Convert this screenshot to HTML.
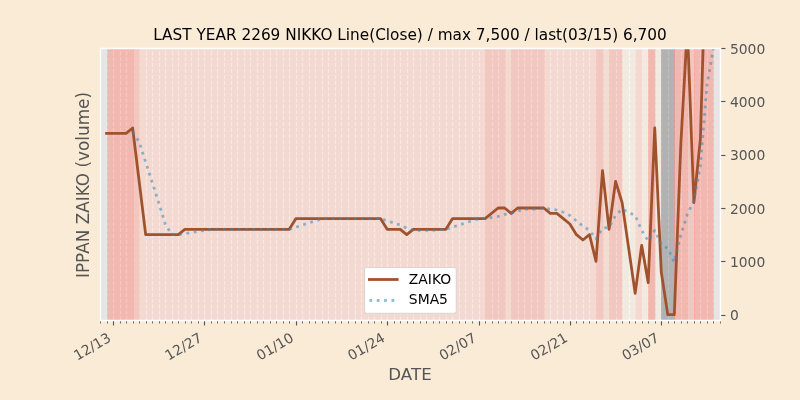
<!DOCTYPE html>
<html><head><meta charset="utf-8"><title>LAST YEAR 2269 NIKKO</title>
<style>html,body{margin:0;padding:0;background:#FAEBD7;overflow:hidden;width:800px;height:400px}svg{display:block;will-change:transform}</style>
</head><body>
<svg width="800" height="400" viewBox="0 0 800 400" version="1.1">
<defs><clipPath id="ca"><rect x="100" y="48" width="620" height="272"/></clipPath></defs>
<rect x="0" y="0" width="800" height="400" fill="#FAEBD7"/>
<rect x="100" y="48" width="620" height="272" fill="#E5E5E5"/>
<g clip-path="url(#ca)" stroke="white" stroke-width="1.11" stroke-dasharray="4.11,1.78" fill="none" ><path d="M100.5 320.5V48"/><path d="M107.5 320.5V48"/><path d="M113.5 320.5V48"/><path d="M120.5 320.5V48"/><path d="M126.5 320.5V48"/><path d="M133.5 320.5V48"/><path d="M139.5 320.5V48"/><path d="M146.5 320.5V48"/><path d="M152.5 320.5V48"/><path d="M159.5 320.5V48"/><path d="M165.5 320.5V48"/><path d="M172.5 320.5V48"/><path d="M178.5 320.5V48"/><path d="M185.5 320.5V48"/><path d="M191.5 320.5V48"/><path d="M198.5 320.5V48"/><path d="M204.5 320.5V48"/><path d="M211.5 320.5V48"/><path d="M217.5 320.5V48"/><path d="M224.5 320.5V48"/><path d="M231.5 320.5V48"/><path d="M237.5 320.5V48"/><path d="M244.5 320.5V48"/><path d="M250.5 320.5V48"/><path d="M257.5 320.5V48"/><path d="M263.5 320.5V48"/><path d="M270.5 320.5V48"/><path d="M276.5 320.5V48"/><path d="M283.5 320.5V48"/><path d="M289.5 320.5V48"/><path d="M296.5 320.5V48"/><path d="M302.5 320.5V48"/><path d="M309.5 320.5V48"/><path d="M315.5 320.5V48"/><path d="M322.5 320.5V48"/><path d="M328.5 320.5V48"/><path d="M335.5 320.5V48"/><path d="M341.5 320.5V48"/><path d="M348.5 320.5V48"/><path d="M355.5 320.5V48"/><path d="M361.5 320.5V48"/><path d="M368.5 320.5V48"/><path d="M374.5 320.5V48"/><path d="M381.5 320.5V48"/><path d="M387.5 320.5V48"/><path d="M394.5 320.5V48"/><path d="M400.5 320.5V48"/><path d="M407.5 320.5V48"/><path d="M413.5 320.5V48"/><path d="M420.5 320.5V48"/><path d="M426.5 320.5V48"/><path d="M433.5 320.5V48"/><path d="M439.5 320.5V48"/><path d="M446.5 320.5V48"/><path d="M452.5 320.5V48"/><path d="M459.5 320.5V48"/><path d="M465.5 320.5V48"/><path d="M472.5 320.5V48"/><path d="M479.5 320.5V48"/><path d="M485.5 320.5V48"/><path d="M492.5 320.5V48"/><path d="M498.5 320.5V48"/><path d="M505.5 320.5V48"/><path d="M511.5 320.5V48"/><path d="M518.5 320.5V48"/><path d="M524.5 320.5V48"/><path d="M531.5 320.5V48"/><path d="M537.5 320.5V48"/><path d="M544.5 320.5V48"/><path d="M550.5 320.5V48"/><path d="M557.5 320.5V48"/><path d="M563.5 320.5V48"/><path d="M570.5 320.5V48"/><path d="M576.5 320.5V48"/><path d="M583.5 320.5V48"/><path d="M589.5 320.5V48"/><path d="M596.5 320.5V48"/><path d="M603.5 320.5V48"/><path d="M609.5 320.5V48"/><path d="M616.5 320.5V48"/><path d="M622.5 320.5V48"/><path d="M629.5 320.5V48"/><path d="M635.5 320.5V48"/><path d="M642.5 320.5V48"/><path d="M648.5 320.5V48"/><path d="M655.5 320.5V48"/><path d="M661.5 320.5V48"/><path d="M668.5 320.5V48"/><path d="M674.5 320.5V48"/><path d="M681.5 320.5V48"/><path d="M687.5 320.5V48"/><path d="M694.5 320.5V48"/><path d="M700.5 320.5V48"/><path d="M707.5 320.5V48"/><path d="M713.5 320.5V48"/><path d="M720.5 320.5V48"/></g>
<rect x="107.5" y="47.5" width="26" height="274" fill="#FB8B7B" fill-opacity="0.5" stroke="#FB8B7B" stroke-opacity="0.5" stroke-width="0.69" clip-path="url(#ca)"/>
<rect x="133.5" y="47.5" width="6" height="274" fill="#FDAB9D" fill-opacity="0.5" stroke="#FDAB9D" stroke-opacity="0.5" stroke-width="0.69" clip-path="url(#ca)"/>
<rect x="139.5" y="47.5" width="346" height="274" fill="#FFCFBF" fill-opacity="0.5" stroke="#FFCFBF" stroke-opacity="0.5" stroke-width="0.69" clip-path="url(#ca)"/>
<rect x="485.5" y="47.5" width="20" height="274" fill="#FDAB9D" fill-opacity="0.5" stroke="#FDAB9D" stroke-opacity="0.5" stroke-width="0.69" clip-path="url(#ca)"/>
<rect x="505.5" y="47.5" width="6" height="274" fill="#FFCFBF" fill-opacity="0.5" stroke="#FFCFBF" stroke-opacity="0.5" stroke-width="0.69" clip-path="url(#ca)"/>
<rect x="511.5" y="47.5" width="33" height="274" fill="#FDAB9D" fill-opacity="0.5" stroke="#FDAB9D" stroke-opacity="0.5" stroke-width="0.69" clip-path="url(#ca)"/>
<rect x="544.5" y="47.5" width="52" height="274" fill="#FFCFBF" fill-opacity="0.5" stroke="#FFCFBF" stroke-opacity="0.5" stroke-width="0.69" clip-path="url(#ca)"/>
<rect x="596.5" y="47.5" width="7" height="274" fill="#FDAB9D" fill-opacity="0.5" stroke="#FDAB9D" stroke-opacity="0.5" stroke-width="0.69" clip-path="url(#ca)"/>
<rect x="603.5" y="47.5" width="6" height="274" fill="#FFD5C5" fill-opacity="0.5" stroke="#FFD5C5" stroke-opacity="0.5" stroke-width="0.69" clip-path="url(#ca)"/>
<rect x="609.5" y="47.5" width="13" height="274" fill="#FDAB9D" fill-opacity="0.5" stroke="#FDAB9D" stroke-opacity="0.5" stroke-width="0.69" clip-path="url(#ca)"/>
<rect x="622.5" y="47.5" width="13" height="274" fill="#FDEFDD" fill-opacity="0.5" stroke="#FDEFDD" stroke-opacity="0.5" stroke-width="0.69" clip-path="url(#ca)"/>
<rect x="635.5" y="47.5" width="7" height="274" fill="#FFCFBF" fill-opacity="0.5" stroke="#FFCFBF" stroke-opacity="0.5" stroke-width="0.69" clip-path="url(#ca)"/>
<rect x="642.5" y="47.5" width="6" height="274" fill="#FDEFDD" fill-opacity="0.5" stroke="#FDEFDD" stroke-opacity="0.5" stroke-width="0.69" clip-path="url(#ca)"/>
<rect x="648.5" y="47.5" width="7" height="274" fill="#FB8B7B" fill-opacity="0.5" stroke="#FB8B7B" stroke-opacity="0.5" stroke-width="0.69" clip-path="url(#ca)"/>
<rect x="655.5" y="47.5" width="6" height="274" fill="#FDEFDD" fill-opacity="0.5" stroke="#FDEFDD" stroke-opacity="0.5" stroke-width="0.69" clip-path="url(#ca)"/>
<rect x="661.5" y="47.5" width="13" height="274" fill="#808080" fill-opacity="0.5" stroke="#808080" stroke-opacity="0.5" stroke-width="0.69" clip-path="url(#ca)"/>
<rect x="674.5" y="47.5" width="13" height="274" fill="#FB8B7B" fill-opacity="0.5" stroke="#FB8B7B" stroke-opacity="0.5" stroke-width="0.69" clip-path="url(#ca)"/>
<rect x="687.5" y="47.5" width="7" height="274" fill="#FDAB9D" fill-opacity="0.5" stroke="#FDAB9D" stroke-opacity="0.5" stroke-width="0.69" clip-path="url(#ca)"/>
<rect x="694.5" y="47.5" width="19" height="274" fill="#FB8B7B" fill-opacity="0.5" stroke="#FB8B7B" stroke-opacity="0.5" stroke-width="0.69" clip-path="url(#ca)"/>
<polyline points="106.53,133.33 113.05,133.33 119.58,133.33 126.11,133.33 132.63,128 139.16,181.33 145.68,234.67 152.21,234.67 158.74,234.67 165.26,234.67 171.79,234.67 178.32,234.67 184.84,229.33 191.37,229.33 197.89,229.33 204.42,229.33 210.95,229.33 217.47,229.33 224,229.33 230.53,229.33 237.05,229.33 243.58,229.33 250.11,229.33 256.63,229.33 263.16,229.33 269.68,229.33 276.21,229.33 282.74,229.33 289.26,229.33 295.79,218.67 302.32,218.67 308.84,218.67 315.37,218.67 321.89,218.67 328.42,218.67 334.95,218.67 341.47,218.67 348,218.67 354.53,218.67 361.05,218.67 367.58,218.67 374.11,218.67 380.63,218.67 387.16,229.33 393.68,229.33 400.21,229.33 406.74,234.67 413.26,229.33 419.79,229.33 426.32,229.33 432.84,229.33 439.37,229.33 445.89,229.33 452.42,218.67 458.95,218.67 465.47,218.67 472,218.67 478.53,218.67 485.05,218.67 498.11,208 504.63,208 511.16,213.33 517.68,208 524.21,208 530.74,208 537.26,208 543.79,208 550.32,213.33 556.84,213.33 563.37,218.67 569.89,224 576.42,234.67 582.95,240 589.47,234.67 596,261.33 602.53,170.67 609.05,229.33 615.58,181.33 622.11,202.67 635.16,293.33 641.68,245.33 648.21,282.67 654.74,128 661.26,272 667.79,314.67 674.32,314.67 680.84,144 687.37,26.67 693.89,202.67 700.42,138.67 706.95,-85.33 713.47,-42.67" fill="none" stroke="sienna" stroke-width="2.78" stroke-linejoin="round" stroke-linecap="square" clip-path="url(#ca)"/>
<polyline points="132.63,132.27 139.16,141.87 145.68,162.13 152.21,182.4 158.74,202.67 165.26,224 171.79,234.67 178.32,234.67 184.84,233.6 191.37,232.53 197.89,231.47 204.42,230.4 210.95,229.33 217.47,229.33 224,229.33 230.53,229.33 237.05,229.33 243.58,229.33 250.11,229.33 256.63,229.33 263.16,229.33 269.68,229.33 276.21,229.33 282.74,229.33 289.26,229.33 295.79,227.2 302.32,225.07 308.84,222.93 315.37,220.8 321.89,218.67 328.42,218.67 334.95,218.67 341.47,218.67 348,218.67 354.53,218.67 361.05,218.67 367.58,218.67 374.11,218.67 380.63,218.67 387.16,220.8 393.68,222.93 400.21,225.07 406.74,228.27 413.26,230.4 419.79,230.4 426.32,230.4 432.84,230.4 439.37,229.33 445.89,229.33 452.42,227.2 458.95,225.07 465.47,222.93 472,220.8 478.53,218.67 485.05,218.67 498.11,216.53 504.63,214.4 511.16,213.33 517.68,211.2 524.21,209.07 530.74,209.07 537.26,209.07 543.79,208 550.32,209.07 556.84,210.13 563.37,212.27 569.89,215.47 576.42,220.8 582.95,226.13 589.47,230.4 596,238.93 602.53,228.27 609.05,227.2 615.58,215.47 622.11,209.07 635.16,215.47 641.68,230.4 648.21,241.07 654.74,230.4 661.26,244.27 667.79,248.53 674.32,262.4 680.84,234.67 687.37,214.4 693.89,200.53 700.42,165.33 706.95,85.33 713.47,48" fill="none" stroke="#348ABD" stroke-opacity="0.55" stroke-width="2.78" stroke-dasharray="2.78,4.58" stroke-linejoin="round" stroke-linecap="butt" clip-path="url(#ca)"/>
<path d="M100.5 320.5v3" stroke="#555555" stroke-width="0.83"/><path d="M107.5 320.5v3" stroke="#555555" stroke-width="0.83"/><path d="M113.5 320.5v5" stroke="#555555" stroke-width="1.11"/><path d="M120.5 320.5v3" stroke="#555555" stroke-width="0.83"/><path d="M126.5 320.5v3" stroke="#555555" stroke-width="0.83"/><path d="M133.5 320.5v3" stroke="#555555" stroke-width="0.83"/><path d="M139.5 320.5v3" stroke="#555555" stroke-width="0.83"/><path d="M146.5 320.5v3" stroke="#555555" stroke-width="0.83"/><path d="M152.5 320.5v3" stroke="#555555" stroke-width="0.83"/><path d="M159.5 320.5v3" stroke="#555555" stroke-width="0.83"/><path d="M165.5 320.5v3" stroke="#555555" stroke-width="0.83"/><path d="M172.5 320.5v3" stroke="#555555" stroke-width="0.83"/><path d="M178.5 320.5v3" stroke="#555555" stroke-width="0.83"/><path d="M185.5 320.5v3" stroke="#555555" stroke-width="0.83"/><path d="M191.5 320.5v3" stroke="#555555" stroke-width="0.83"/><path d="M198.5 320.5v3" stroke="#555555" stroke-width="0.83"/><path d="M204.5 320.5v5" stroke="#555555" stroke-width="1.11"/><path d="M211.5 320.5v3" stroke="#555555" stroke-width="0.83"/><path d="M217.5 320.5v3" stroke="#555555" stroke-width="0.83"/><path d="M224.5 320.5v3" stroke="#555555" stroke-width="0.83"/><path d="M231.5 320.5v3" stroke="#555555" stroke-width="0.83"/><path d="M237.5 320.5v3" stroke="#555555" stroke-width="0.83"/><path d="M244.5 320.5v3" stroke="#555555" stroke-width="0.83"/><path d="M250.5 320.5v3" stroke="#555555" stroke-width="0.83"/><path d="M257.5 320.5v3" stroke="#555555" stroke-width="0.83"/><path d="M263.5 320.5v3" stroke="#555555" stroke-width="0.83"/><path d="M270.5 320.5v3" stroke="#555555" stroke-width="0.83"/><path d="M276.5 320.5v3" stroke="#555555" stroke-width="0.83"/><path d="M283.5 320.5v3" stroke="#555555" stroke-width="0.83"/><path d="M289.5 320.5v3" stroke="#555555" stroke-width="0.83"/><path d="M296.5 320.5v5" stroke="#555555" stroke-width="1.11"/><path d="M302.5 320.5v3" stroke="#555555" stroke-width="0.83"/><path d="M309.5 320.5v3" stroke="#555555" stroke-width="0.83"/><path d="M315.5 320.5v3" stroke="#555555" stroke-width="0.83"/><path d="M322.5 320.5v3" stroke="#555555" stroke-width="0.83"/><path d="M328.5 320.5v3" stroke="#555555" stroke-width="0.83"/><path d="M335.5 320.5v3" stroke="#555555" stroke-width="0.83"/><path d="M341.5 320.5v3" stroke="#555555" stroke-width="0.83"/><path d="M348.5 320.5v3" stroke="#555555" stroke-width="0.83"/><path d="M355.5 320.5v3" stroke="#555555" stroke-width="0.83"/><path d="M361.5 320.5v3" stroke="#555555" stroke-width="0.83"/><path d="M368.5 320.5v3" stroke="#555555" stroke-width="0.83"/><path d="M374.5 320.5v3" stroke="#555555" stroke-width="0.83"/><path d="M381.5 320.5v3" stroke="#555555" stroke-width="0.83"/><path d="M387.5 320.5v5" stroke="#555555" stroke-width="1.11"/><path d="M394.5 320.5v3" stroke="#555555" stroke-width="0.83"/><path d="M400.5 320.5v3" stroke="#555555" stroke-width="0.83"/><path d="M407.5 320.5v3" stroke="#555555" stroke-width="0.83"/><path d="M413.5 320.5v3" stroke="#555555" stroke-width="0.83"/><path d="M420.5 320.5v3" stroke="#555555" stroke-width="0.83"/><path d="M426.5 320.5v3" stroke="#555555" stroke-width="0.83"/><path d="M433.5 320.5v3" stroke="#555555" stroke-width="0.83"/><path d="M439.5 320.5v3" stroke="#555555" stroke-width="0.83"/><path d="M446.5 320.5v3" stroke="#555555" stroke-width="0.83"/><path d="M452.5 320.5v3" stroke="#555555" stroke-width="0.83"/><path d="M459.5 320.5v3" stroke="#555555" stroke-width="0.83"/><path d="M465.5 320.5v3" stroke="#555555" stroke-width="0.83"/><path d="M472.5 320.5v3" stroke="#555555" stroke-width="0.83"/><path d="M479.5 320.5v5" stroke="#555555" stroke-width="1.11"/><path d="M485.5 320.5v3" stroke="#555555" stroke-width="0.83"/><path d="M492.5 320.5v3" stroke="#555555" stroke-width="0.83"/><path d="M498.5 320.5v3" stroke="#555555" stroke-width="0.83"/><path d="M505.5 320.5v3" stroke="#555555" stroke-width="0.83"/><path d="M511.5 320.5v3" stroke="#555555" stroke-width="0.83"/><path d="M518.5 320.5v3" stroke="#555555" stroke-width="0.83"/><path d="M524.5 320.5v3" stroke="#555555" stroke-width="0.83"/><path d="M531.5 320.5v3" stroke="#555555" stroke-width="0.83"/><path d="M537.5 320.5v3" stroke="#555555" stroke-width="0.83"/><path d="M544.5 320.5v3" stroke="#555555" stroke-width="0.83"/><path d="M550.5 320.5v3" stroke="#555555" stroke-width="0.83"/><path d="M557.5 320.5v3" stroke="#555555" stroke-width="0.83"/><path d="M563.5 320.5v3" stroke="#555555" stroke-width="0.83"/><path d="M570.5 320.5v5" stroke="#555555" stroke-width="1.11"/><path d="M576.5 320.5v3" stroke="#555555" stroke-width="0.83"/><path d="M583.5 320.5v3" stroke="#555555" stroke-width="0.83"/><path d="M589.5 320.5v3" stroke="#555555" stroke-width="0.83"/><path d="M596.5 320.5v3" stroke="#555555" stroke-width="0.83"/><path d="M603.5 320.5v3" stroke="#555555" stroke-width="0.83"/><path d="M609.5 320.5v3" stroke="#555555" stroke-width="0.83"/><path d="M616.5 320.5v3" stroke="#555555" stroke-width="0.83"/><path d="M622.5 320.5v3" stroke="#555555" stroke-width="0.83"/><path d="M629.5 320.5v3" stroke="#555555" stroke-width="0.83"/><path d="M635.5 320.5v3" stroke="#555555" stroke-width="0.83"/><path d="M642.5 320.5v3" stroke="#555555" stroke-width="0.83"/><path d="M648.5 320.5v3" stroke="#555555" stroke-width="0.83"/><path d="M655.5 320.5v3" stroke="#555555" stroke-width="0.83"/><path d="M661.5 320.5v5" stroke="#555555" stroke-width="1.11"/><path d="M668.5 320.5v3" stroke="#555555" stroke-width="0.83"/><path d="M674.5 320.5v3" stroke="#555555" stroke-width="0.83"/><path d="M681.5 320.5v3" stroke="#555555" stroke-width="0.83"/><path d="M687.5 320.5v3" stroke="#555555" stroke-width="0.83"/><path d="M694.5 320.5v3" stroke="#555555" stroke-width="0.83"/><path d="M700.5 320.5v3" stroke="#555555" stroke-width="0.83"/><path d="M707.5 320.5v3" stroke="#555555" stroke-width="0.83"/><path d="M713.5 320.5v3" stroke="#555555" stroke-width="0.83"/><path d="M720.5 320.5v3" stroke="#555555" stroke-width="0.83"/><path d="M720.5 315.5h5" stroke="#555555" stroke-width="1.11"/><path d="M720.5 261.5h5" stroke="#555555" stroke-width="1.11"/><path d="M720.5 208.5h5" stroke="#555555" stroke-width="1.11"/><path d="M720.5 155.5h5" stroke="#555555" stroke-width="1.11"/><path d="M720.5 101.5h5" stroke="#555555" stroke-width="1.11"/><path d="M720.5 48.5h5" stroke="#555555" stroke-width="1.11"/>
<path d="M100.5 48.5L100.5 320.5" stroke="white" stroke-width="1.39" stroke-linecap="square"/>
<path d="M720.5 48.5L720.5 320.5" stroke="white" stroke-width="1.39" stroke-linecap="square"/>
<path d="M100.5 48.5L720.5 48.5" stroke="white" stroke-width="1.39" stroke-linecap="square"/>
<path d="M100.5 320.5L720.5 320.5" stroke="white" stroke-width="1.39" stroke-linecap="square"/>
<text x="0" y="0" transform="translate(77.24 360.67) rotate(-30)" font-size="13.89" fill="#555555" text-anchor="start" font-family="'DejaVu Sans', 'Liberation Sans', sans-serif">12/13</text>
<text x="0" y="0" transform="translate(168.61 360.67) rotate(-30)" font-size="13.89" fill="#555555" text-anchor="start" font-family="'DejaVu Sans', 'Liberation Sans', sans-serif">12/27</text>
<text x="0" y="0" transform="translate(259.98 360.67) rotate(-30)" font-size="13.89" fill="#555555" text-anchor="start" font-family="'DejaVu Sans', 'Liberation Sans', sans-serif">01/10</text>
<text x="0" y="0" transform="translate(351.35 360.67) rotate(-30)" font-size="13.89" fill="#555555" text-anchor="start" font-family="'DejaVu Sans', 'Liberation Sans', sans-serif">01/24</text>
<text x="0" y="0" transform="translate(442.72 360.67) rotate(-30)" font-size="13.89" fill="#555555" text-anchor="start" font-family="'DejaVu Sans', 'Liberation Sans', sans-serif">02/07</text>
<text x="0" y="0" transform="translate(534.09 360.67) rotate(-30)" font-size="13.89" fill="#555555" text-anchor="start" font-family="'DejaVu Sans', 'Liberation Sans', sans-serif">02/21</text>
<text x="0" y="0" transform="translate(625.46 360.67) rotate(-30)" font-size="13.89" fill="#555555" text-anchor="start" font-family="'DejaVu Sans', 'Liberation Sans', sans-serif">03/07</text>
<text x="0" y="0" transform="translate(410 379.6)" font-size="16.67" fill="#555555" text-anchor="middle" font-family="'DejaVu Sans', 'Liberation Sans', sans-serif">DATE</text>
<text x="0" y="0" transform="translate(729.92 320)" font-size="13.89" fill="#555555" text-anchor="start" font-family="'DejaVu Sans', 'Liberation Sans', sans-serif">0</text>
<text x="0" y="0" transform="translate(729.92 267)" font-size="13.89" fill="#555555" text-anchor="start" font-family="'DejaVu Sans', 'Liberation Sans', sans-serif">1000</text>
<text x="0" y="0" transform="translate(729.92 214)" font-size="13.89" fill="#555555" text-anchor="start" font-family="'DejaVu Sans', 'Liberation Sans', sans-serif">2000</text>
<text x="0" y="0" transform="translate(729.92 160)" font-size="13.89" fill="#555555" text-anchor="start" font-family="'DejaVu Sans', 'Liberation Sans', sans-serif">3000</text>
<text x="0" y="0" transform="translate(729.92 107)" font-size="13.89" fill="#555555" text-anchor="start" font-family="'DejaVu Sans', 'Liberation Sans', sans-serif">4000</text>
<text x="0" y="0" transform="translate(729.92 54)" font-size="13.89" fill="#555555" text-anchor="start" font-family="'DejaVu Sans', 'Liberation Sans', sans-serif">5000</text>
<text x="0" y="0" transform="translate(89.28 185) rotate(-90)" font-size="16.85" fill="#555555" text-anchor="middle" font-family="'DejaVu Sans', 'Liberation Sans', sans-serif">IPPAN ZAIKO (volume)</text>
<text x="0" y="0" transform="translate(410 40.07)" font-size="15.31" fill="#000000" text-anchor="middle" font-family="'DejaVu Sans', 'Liberation Sans', sans-serif">LAST YEAR 2269 NIKKO Line(Close) / max 7,500 / last(03/15) 6,700</text>
<rect x="364.6" y="267.5" width="91.6" height="45.75" rx="2" fill="white" fill-opacity="1.0" stroke="#cccccc" stroke-width="0.69"/>
<path d="M369.4 279.5H397.18" stroke="sienna" stroke-width="2.78" stroke-linecap="square"/>
<path d="M369.4 300.5H397.18" stroke="#348ABD" stroke-opacity="0.55" stroke-width="2.78" stroke-dasharray="2.78,4.58"/>
<text x="0" y="0" transform="translate(408.85 284.23)" font-size="13.89" fill="#000000" text-anchor="start" font-family="'DejaVu Sans', 'Liberation Sans', sans-serif">ZAIKO</text>
<text x="0" y="0" transform="translate(408.85 303.61)" font-size="13.89" fill="#000000" text-anchor="start" font-family="'DejaVu Sans', 'Liberation Sans', sans-serif">SMA5</text>
</svg>
</body></html>
